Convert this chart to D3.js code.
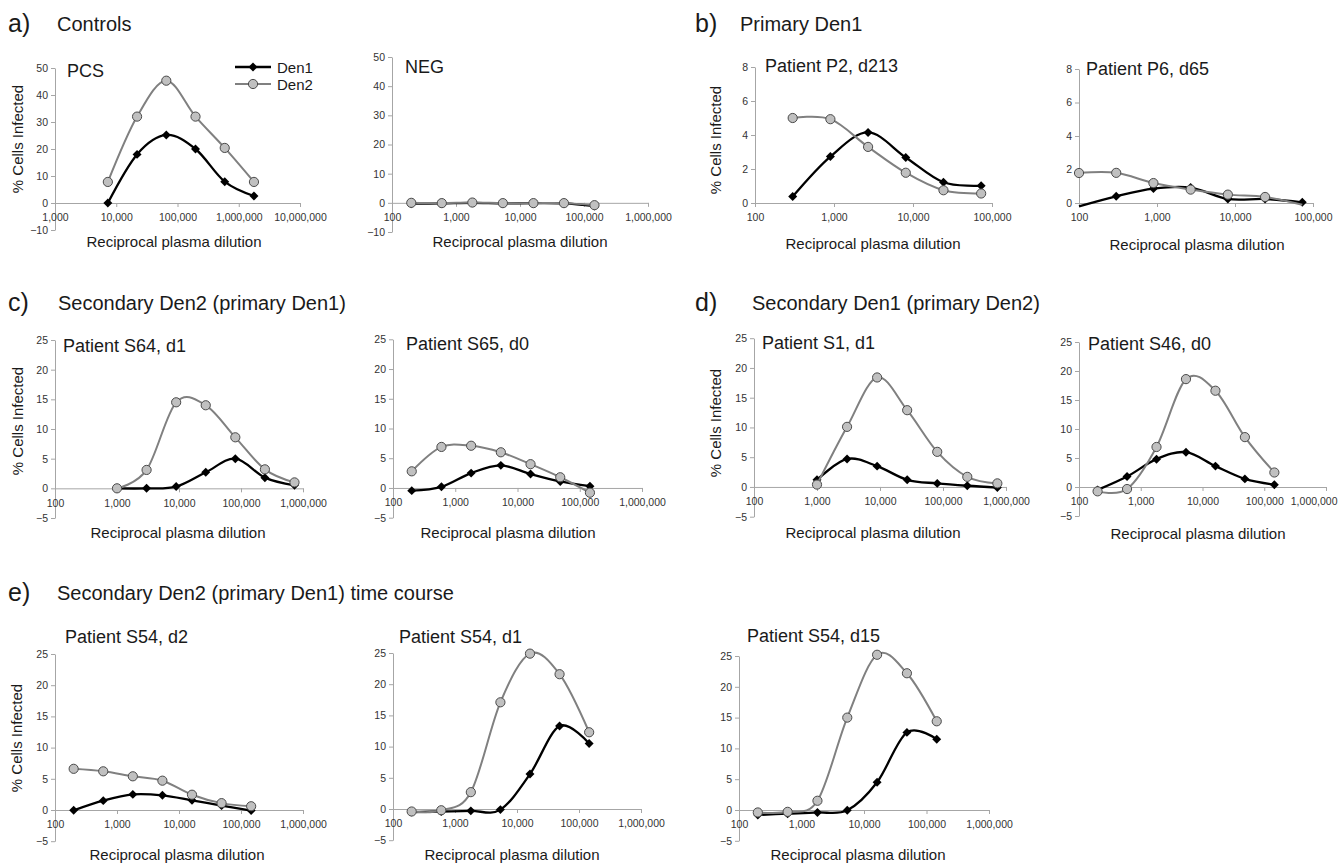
<!DOCTYPE html>
<html><head><meta charset="utf-8">
<script src="https://cdn.jsdelivr.net/npm/d3@7"></script>
<style>body{margin:0;background:#fff}</style>
</head><body>
<svg id="chart" width="1339" height="868"></svg>
<script>
// ---------- data ----------
const seriesNames = ["Den1", "Den2"];
const dilutionsPCS = [7290, 21870, 65610, 196830, 590490, 1771470];
const dilutions200 = [200, 600, 1800, 5400, 16200, 48600, 145800];
const dilutions100 = [100, 300, 900, 2700, 8100, 24300, 72900];
const dilutions300 = [300, 900, 2700, 8100, 24300, 72900];
const dilutions1000 = [1000, 3000, 9000, 27000, 81000, 243000, 729000];

const pcsDen1 = [0, 18, 25.2, 20, 7.9, 2.6];
const pcsDen2 = [7.8, 32, 45.3, 32, 20.4, 7.8];
const negDen1 = [-0.3, -0.2, 0, -0.2, -0.1, -0.2, -1.1];
const negDen2 = [0, -0.1, 0.1, -0.1, -0.1, -0.1, -0.8];
const p2Den1 = [0.38, 2.73, 4.15, 2.68, 1.22, 1.02];
const p2Den2 = [5.0, 4.93, 3.3, 1.78, 0.75, 0.56];
const p6Den1 = [-0.2, 0.4, 0.86, 0.92, 0.24, 0.24, 0.04];
const p6Den2 = [1.79, 1.8, 1.19, 0.8, 0.5, 0.36, -0.1];
const s64Den1 = [0, 0, 0.3, 2.7, 5.0, 1.8, 0.5];
const s64Den2 = [0, 3.1, 14.5, 14.0, 8.6, 3.2, 1.0];
const s65Den1 = [-0.45, 0.2, 2.5, 3.8, 2.35, 1.1, 0.3];
const s65Den2 = [2.8, 6.9, 7.1, 6.0, 4.0, 1.8, -0.8];
const s1Den1 = [1.2, 4.7, 3.5, 1.2, 0.6, 0.2, -0.1];
const s1Den2 = [0.4, 10.1, 18.4, 12.9, 5.9, 1.7, 0.6];
const s46Den1 = [-0.5, 1.8, 4.8, 6.0, 3.6, 1.4, 0.4];
const s46Den2 = [-0.75, -0.35, 6.9, 18.6, 16.6, 8.6, 2.5];
const s54d2Den1 = [-0.05, 1.5, 2.5, 2.35, 1.55, 0.7, -0.1];
const s54d2Den2 = [6.6, 6.2, 5.4, 4.7, 2.45, 1.1, 0.6];
const s54d1Den1 = [-0.5, -0.4, -0.3, -0.1, 5.6, 13.3, 10.5];
const s54d1Den2 = [-0.4, -0.2, 2.7, 17.1, 24.9, 21.6, 12.3];
const s54d15Den1 = [-0.8, -0.6, -0.4, -0.05, 4.5, 12.6, 11.5];
const s54d15Den2 = [-0.4, -0.3, 1.5, 15.0, 25.2, 22.2, 14.4];

const yTicks50 = [-10, 0, 10, 20, 30, 40, 50];
const yTicks8 = [0, 2, 4, 6, 8];
const yTicks25 = [-5, 0, 5, 10, 15, 20, 25];
const xTicksPCS = [1e3, 1e4, 1e5, 1e6, 1e7];
const xTicks6 = [1e2, 1e3, 1e4, 1e5, 1e6];
const xTicks5 = [1e2, 1e3, 1e4, 1e5];

const headings = [
  {label: "a)", text: "Controls"},
  {label: "b)", text: "Primary Den1"},
  {label: "c)", text: "Secondary Den2 (primary Den1)"},
  {label: "d)", text: "Secondary Den1 (primary Den2)"},
  {label: "e)", text: "Secondary Den2 (primary Den1) time course"}
];
const yTitle = "% Cells Infected";
const xTitle = "Reciprocal plasma dilution";

// ---------- layout ----------
const FONT = "'Liberation Sans', Arial, Helvetica, sans-serif";
const headingPos = [
  {lx: 8, tx: 57, y: 31}, {lx: 695, tx: 740, y: 31},
  {lx: 8, tx: 58, y: 310}, {lx: 695, tx: 752, y: 310},
  {lx: 8, tx: 57, y: 600}
];
const panels = [
  {title: "PCS", xs: dilutionsPCS, d1: pcsDen1, d2: pcsDen2, xDom: [1e3, 1e7], xR: [55, 300], yDom: [-10, 50], yR: [230, 68], yT: yTicks50, xT: xTicksPCS, tx: 67, ty: 77, yl: [17, 139], xl: [174, 247], legend: true},
  {title: "NEG", xs: dilutions200, d1: negDen1, d2: negDen2, xDom: [1e2, 1e6], xR: [392, 648], yDom: [-10, 50], yR: [232, 57], yT: yTicks50, xT: xTicks6, tx: 405, ty: 73, yl: null, xl: [520, 247]},
  {title: "Patient P2, d213", xs: dilutions300, d1: p2Den1, d2: p2Den2, xDom: [1e2, 1e5], xR: [755, 992], yDom: [0, 8], yR: [203, 67], yT: yTicks8, xT: xTicks5, tx: 765, ty: 72, yl: [715, 140], xl: [873, 249]},
  {title: "Patient P6, d65", xs: dilutions100, d1: p6Den1, d2: p6Den2, xDom: [1e2, 1e5], xR: [1079, 1313], yDom: [0, 8], yR: [203, 69], yT: yTicks8, xT: xTicks5, tx: 1086, ty: 75, yl: null, xl: [1197, 250]},
  {title: "Patient S64, d1", xs: dilutions1000, d1: s64Den1, d2: s64Den2, xDom: [1e2, 1e6], xR: [55, 303], yDom: [-5, 25], yR: [518, 340], yT: yTicks25, xT: xTicks6, tx: 63, ty: 352, yl: [17, 421], xl: [178, 538]},
  {title: "Patient S65, d0", xs: dilutions200, d1: s65Den1, d2: s65Den2, xDom: [1e2, 1e6], xR: [393, 642], yDom: [-5, 25], yR: [517.7, 339.3], yT: yTicks25, xT: xTicks6, tx: 406, ty: 350, yl: null, xl: [508, 538]},
  {title: "Patient S1, d1", xs: dilutions1000, d1: s1Den1, d2: s1Den2, xDom: [1e2, 1e6], xR: [754, 1006], yDom: [-5, 25], yR: [516.7, 338.2], yT: yTicks25, xT: xTicks6, tx: 762, ty: 349, yl: [715, 423], xl: [873, 538]},
  {title: "Patient S46, d0", xs: dilutions200, d1: s46Den1, d2: s46Den2, xDom: [1e2, 1e6], xR: [1079, 1326], yDom: [-5, 25], yR: [516, 342], yT: yTicks25, xT: xTicks6, tx: 1088, ty: 350, yl: null, xl: [1198, 539]},
  {title: "Patient S54, d2", xs: dilutions200, d1: s54d2Den1, d2: s54d2Den2, xDom: [1e2, 1e6], xR: [55, 303], yDom: [-5, 25], yR: [841.2, 654], yT: yTicks25, xT: xTicks6, tx: 65, ty: 643, yl: [16, 738], xl: [177, 860]},
  {title: "Patient S54, d1", xs: dilutions200, d1: s54d1Den1, d2: s54d1Den2, xDom: [1e2, 1e6], xR: [393, 641], yDom: [-5, 25], yR: [840.2, 653], yT: yTicks25, xT: xTicks6, tx: 399, ty: 643, yl: null, xl: [512, 860]},
  {title: "Patient S54, d15", xs: dilutions200, d1: s54d15Den1, d2: s54d15Den2, xDom: [1e2, 1e6], xR: [739, 989], yDom: [-5, 25], yR: [840.8, 656], yT: yTicks25, xT: xTicks6, tx: 747, ty: 642, yl: null, xl: [858, 860]}
];

const AXIS = "#a6a6a6", TXT = "#1a1a1a", TICK = "#333";
const DEN1 = "#000", DEN2 = "#808080", DEN2FILL = "#c0c0c0", DEN2STROKE = "#4a4a4a";
const PAGE_W = 1339;

const svg = d3.select("#chart").style("font-family", FONT);

headings.forEach((h, i) => {
  const p = headingPos[i];
  svg.append("text").attr("x", p.lx).attr("y", p.y + 1).attr("font-size", 25).attr("fill", TXT).text(h.label);
  svg.append("text").attr("x", p.tx).attr("y", p.y).attr("font-size", 20).attr("fill", TXT).text(h.text);
});

const diamond = d3.symbol(d3.symbolSquare, 40);

function drawPanel(p) {
  const g = svg.append("g");
  const x = d3.scaleLog().domain(p.xDom).range(p.xR);
  const y = d3.scaleLinear().domain(p.yDom).range(p.yR);

  const ya = g.append("g").attr("transform", `translate(${p.xR[0]},0)`)
    .call(d3.axisLeft(y).tickValues(p.yT).tickSize(4).tickSizeOuter(0).tickPadding(3));
  const xa = g.append("g").attr("transform", `translate(0,${y(0)})`)
    .call(d3.axisBottom(x).tickValues(p.xT).tickFormat(d3.format(",")).tickSize(4).tickSizeOuter(0).tickPadding(7));
  [ya, xa].forEach(a => {
    a.attr("font-family", FONT).attr("font-size", 10.5);
    a.select(".domain").attr("stroke", AXIS).attr("stroke-width", 1);
    a.selectAll(".tick line").attr("stroke", AXIS);
    a.selectAll(".tick text").attr("fill", TICK);
  });
  // keep the last x tick label inside the page
  xa.selectAll(".tick text").each(function(d) {
    const w = this.getComputedTextLength();
    const cx = x(d);
    if (cx + w / 2 > PAGE_W - 2) d3.select(this).attr("text-anchor", "end").attr("x", PAGE_W - 2 - cx);
  });

  g.append("text").attr("x", p.tx).attr("y", p.ty).attr("font-size", 18).attr("fill", TXT).text(p.title);
  if (p.yl !== null) {
    g.append("text").attr("transform", `translate(${p.yl[0]},${p.yl[1]}) rotate(-90)`)
      .attr("text-anchor", "middle").attr("dominant-baseline", "central")
      .attr("font-size", 15).attr("fill", TXT).text(yTitle);
  }
  g.append("text").attr("x", p.xl[0]).attr("y", p.xl[1]).attr("text-anchor", "middle")
    .attr("font-size", 15).attr("fill", TXT).text(xTitle);

  const line = d3.line().x(d => x(d[0])).y(d => y(d[1])).curve(d3.curveCardinal.tension(0));
  const d1 = p.xs.map((v, i) => [v, p.d1[i]]);
  const d2 = p.xs.map((v, i) => [v, p.d2[i]]);
  const ymin = p.yDom[0];

  g.append("path").datum(d1).attr("d", line).attr("fill", "none").attr("stroke", DEN1).attr("stroke-width", 2.3);
  g.selectAll(".m1").data(d1.filter(d => d[1] >= ymin)).join("path")
    .attr("d", diamond).attr("transform", d => `translate(${x(d[0])},${y(d[1])}) rotate(45)`).attr("fill", DEN1);

  g.append("path").datum(d2).attr("d", line).attr("fill", "none").attr("stroke", DEN2).attr("stroke-width", 2);
  g.selectAll(".m2").data(d2.filter(d => d[1] >= ymin)).join("circle")
    .attr("cx", d => x(d[0])).attr("cy", d => y(d[1])).attr("r", 4.6)
    .attr("fill", DEN2FILL).attr("stroke", DEN2STROKE).attr("stroke-width", 1);

  if (p.legend) {
    const lg = svg.append("g");
    seriesNames.forEach((name, i) => {
      const ly = 67 + i * 17;
      lg.append("line").attr("x1", 235).attr("x2", 271).attr("y1", ly).attr("y2", ly)
        .attr("stroke", i === 0 ? DEN1 : DEN2).attr("stroke-width", i === 0 ? 2.5 : 2);
      if (i === 0) {
        lg.append("path").attr("d", diamond).attr("transform", `translate(253,${ly}) rotate(45)`).attr("fill", DEN1);
      } else {
        lg.append("circle").attr("cx", 253).attr("cy", ly).attr("r", 4.6)
          .attr("fill", DEN2FILL).attr("stroke", DEN2STROKE);
      }
      lg.append("text").attr("x", 277).attr("y", ly + 5.5).attr("font-size", 15).attr("fill", TXT).text(name);
    });
  }
}
panels.forEach(drawPanel);
</script>
</body></html>
